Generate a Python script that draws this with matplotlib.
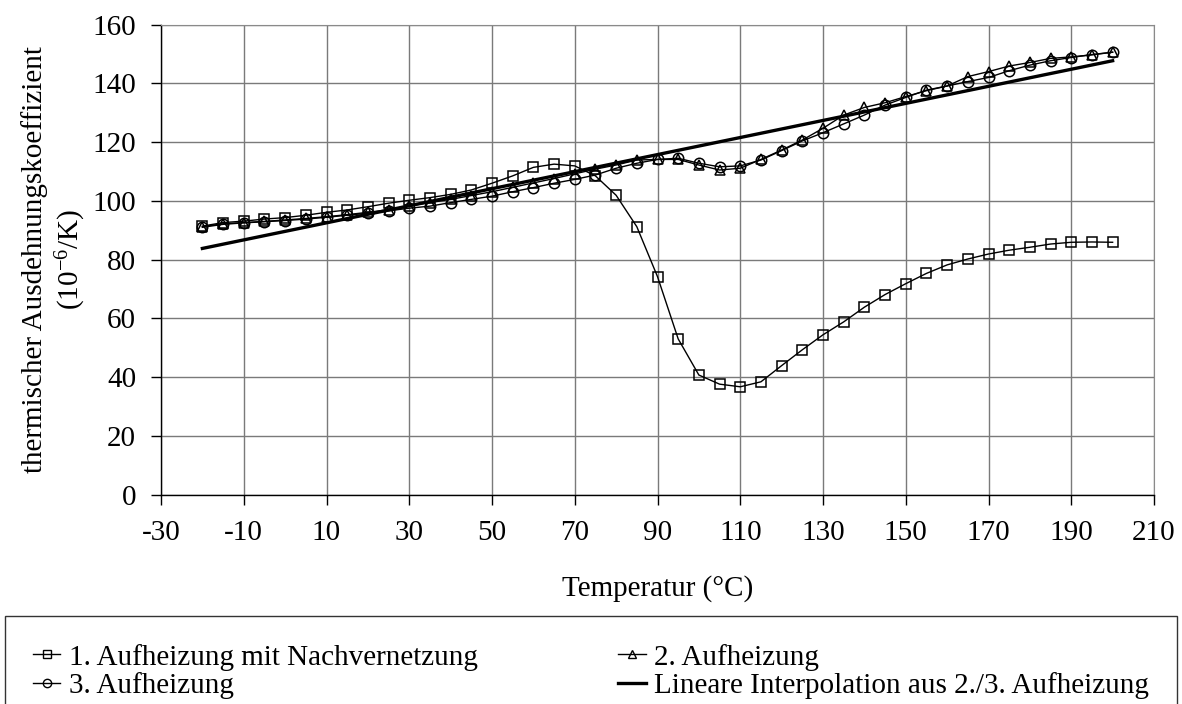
"""Thermal expansion coefficient over temperature for three heating runs."""

import matplotlib

matplotlib.use("Agg")
import matplotlib.pyplot as plt
from matplotlib.lines import Line2D

# temperature steps of the measurement (°C)
temperature = list(range(-20, 205, 5))

# 1st heating run with post-curing
run1 = [
    91.4, 92.6, 93.1, 93.8, 94.3, 95.1, 96.1, 96.9, 98.0, 99.2,
    100.2, 101.1, 102.2, 103.7, 106.0, 108.5, 111.4, 112.5, 111.9, 108.5,
    101.9, 91.2, 74.2, 53.0, 40.7, 37.6, 36.7, 38.4, 43.9, 49.3,
    54.4, 58.8, 63.8, 68.1, 71.8, 75.3, 78.2, 80.2, 81.9, 83.2,
    84.2, 85.3, 85.9, 86.0, 85.9,
]

# 2nd heating run
run2 = [
    91.2, 92.2, 92.6, 93.0, 93.5, 94.0, 94.6, 95.3, 96.1, 97.0,
    98.3, 99.4, 100.5, 101.8, 103.1, 104.6, 106.1, 107.6, 109.2, 110.8,
    112.2, 113.9, 114.1, 114.1, 112.2, 110.5, 111.1, 114.1, 117.3, 120.7,
    124.7, 129.2, 131.8, 133.4, 135.5, 137.5, 139.1, 142.3, 144.0, 145.9,
    147.1, 148.5, 149.0, 149.7, 150.6,
]

# 3rd heating run
run3 = [
    91.0, 92.0, 92.5, 92.9, 93.3, 93.8, 94.4, 95.1, 95.8, 96.6,
    97.5, 98.2, 99.4, 100.5, 101.6, 103.1, 104.5, 106.0, 107.3, 108.8,
    111.1, 112.8, 114.1, 114.5, 112.8, 111.6, 111.9, 113.9, 117.1, 120.4,
    123.2, 126.2, 129.2, 132.6, 135.2, 137.7, 139.1, 140.6, 142.0, 144.3,
    146.2, 147.7, 148.8, 149.8, 150.6,
]

# linear fit of runs 2 and 3, given by its end points
fit_temperature = [-20, 200]
fit_value = [83.8, 147.7]

x_ticks = list(range(-30, 230, 20))
y_ticks = list(range(0, 180, 20))

FONT_SIZE = 21

plt.rcParams.update(
    {
        "font.family": "Liberation Serif",
        "mathtext.fontset": "custom",
        "mathtext.rm": "Liberation Serif",
        "mathtext.it": "Liberation Serif:italic",
        "font.size": FONT_SIZE,
        "axes.unicode_minus": False,
    }
)

fig = plt.figure(figsize=(11.82, 7.04), dpi=100)
ax = fig.add_axes([161 / 1182, 1 - 494.6 / 704, 993 / 1182, 470 / 704])

ax.set_xlim(-30, 210)
ax.set_ylim(0, 160)
ax.set_xticks(x_ticks)
ax.set_yticks(y_ticks)
ax.grid(True, color="#7a7a7a", linewidth=1.0)
ax.set_axisbelow(True)

marker_style = dict(color="black", linewidth=1.0, markersize=7.5,
                    markerfacecolor="none", markeredgewidth=1.1)
ax.plot(temperature, run1, marker="s", **marker_style)
ax.plot(temperature, run2, marker="^", **marker_style)
ax.plot(temperature, run3, marker="o", **marker_style)
ax.plot(fit_temperature, fit_value, color="black", linewidth=2.4)

for side in ("top", "right"):
    ax.spines[side].set_color("#8a8a8a")
for side in ("left", "bottom"):
    ax.spines[side].set_color("black")
    ax.spines[side].set_linewidth(1.0)
ax.tick_params(direction="out", length=7, width=1.0, pad=11, labelsize=FONT_SIZE)

ax.set_xlabel("Temperatur (°C)", fontsize=FONT_SIZE, labelpad=21)
ax.set_ylabel("thermischer Ausdehnungskoeffizient\n(10$^{-6}$/K)",
              fontsize=FONT_SIZE, labelpad=3, linespacing=1.25)

legend_style = dict(color="black", linewidth=1.0, markersize=6,
                    markerfacecolor="none", markeredgewidth=1.0)
handles = [
    Line2D([], [], marker="s", **legend_style),
    Line2D([], [], marker="o", **legend_style),
    Line2D([], [], marker="^", **legend_style),
    Line2D([], [], color="black", linewidth=2.4),
]
labels = [
    "1. Aufheizung mit Nachvernetzung",
    "3. Aufheizung",
    "2. Aufheizung",
    "Lineare Interpolation aus 2./3. Aufheizung",
]
leg = fig.legend(
    handles,
    labels,
    ncol=2,
    loc="upper left",
    bbox_to_anchor=(5 / 1182, 0.0, 1172 / 1182, 1 - 616 / 704),
    mode="expand",
    frameon=True,
    fancybox=False,
    edgecolor="black",
    fontsize=FONT_SIZE,
    borderpad=0.95,
    labelspacing=0.05,
    handlelength=0.95,
    handletextpad=0.3,
    borderaxespad=0.0,
)
leg.get_frame().set_linewidth(1.0)

fig.savefig("out.png", dpi=100)
